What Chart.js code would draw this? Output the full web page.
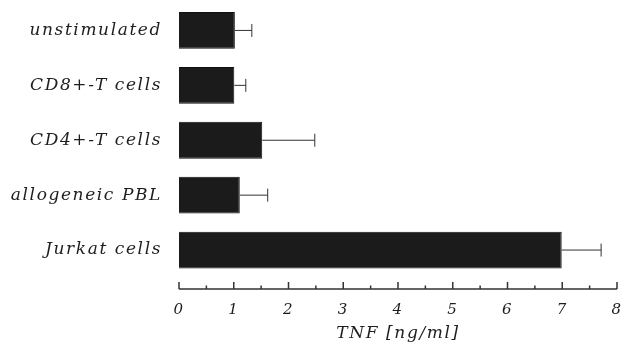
<!DOCTYPE html>
<html lang="en">
<head>
<meta charset="utf-8">
<script src="https://cdn.jsdelivr.net/npm/chart.js@4.4.0/dist/chart.umd.min.js"></script>
<style>
  html, body { margin: 0; padding: 0; background: #fff; }
  #wrap { width: 629px; height: 354px; }
</style>
</head>
<body>
<div id="wrap"><canvas id="chart" width="629" height="354"></canvas></div>
<script>
// values
const categories = ['unstimulated', 'CD8+-T cells', 'CD4+-T cells', 'allogeneic PBL', 'Jurkat cells'];
const tnfMean = [1.02, 1.01, 1.52, 1.11, 6.99];
const tnfErr = [0.31, 0.21, 0.96, 0.51, 0.72];
const xTicks = [0, 1, 2, 3, 4, 5, 6, 7, 8];

const labelFont = "'DejaVu Serif', serif";
const ink = '#1e1e1e';

// the old plotter lettering is widely spaced
const spacing = {
  id: 'spacing',
  beforeDraw(chart) { chart.ctx.letterSpacing = '1.6px'; },
  afterDraw(chart) { chart.ctx.letterSpacing = '0px'; }
};

// error bars drawn from the bar end to mean + err, with a small cap
const errorBars = {
  id: 'errorBars',
  afterDatasetsDraw(chart) {
    const ctx = chart.ctx;
    const x = chart.scales.x;
    const meta = chart.getDatasetMeta(0);
    ctx.save();
    ctx.strokeStyle = '#333';
    ctx.lineWidth = 1;
    meta.data.forEach((bar, i) => {
      const x0 = x.getPixelForValue(tnfMean[i]);
      const x1 = x.getPixelForValue(tnfMean[i] + tnfErr[i]);
      const y = bar.y;
      ctx.beginPath();
      ctx.moveTo(x0, y);
      ctx.lineTo(x1, y);
      ctx.moveTo(x1, y - 6.5);
      ctx.lineTo(x1, y + 6.5);
      ctx.stroke();
    });
    ctx.restore();
  }
};

// x axis line sits a bit below the plot, ticks point upwards
const axisLine = {
  id: 'axisLine',
  afterDraw(chart) {
    const ctx = chart.ctx;
    const x = chart.scales.x;
    const y = chart.chartArea.bottom + 11.5;
    ctx.save();
    ctx.strokeStyle = '#333';
    ctx.lineWidth = 1.5;
    ctx.beginPath();
    ctx.moveTo(x.getPixelForValue(0), y);
    ctx.lineTo(x.getPixelForValue(8), y);
    for (let v = 0; v <= 8; v += 0.5) {
      const px = x.getPixelForValue(v);
      const len = Number.isInteger(v) ? 7 : 3.5;
      ctx.moveTo(px, y);
      ctx.lineTo(px, y - len);
    }
    ctx.stroke();
    ctx.restore();
  }
};

const ctx = document.getElementById('chart').getContext('2d');
new Chart(ctx, {
  type: 'bar',
  data: {
    labels: categories,
    datasets: [{
      data: tnfMean,
      backgroundColor: '#1b1b1b',
      borderColor: '#111',
      borderWidth: 1,
      barPercentage: 0.67,
      categoryPercentage: 1
    }]
  },
  options: {
    indexAxis: 'y',
    responsive: false,
    animation: false,
    layout: { padding: { top: 3, right: 12, left: 0, bottom: 0 } },
    plugins: { legend: { display: false }, tooltip: { enabled: false } },
    scales: {
      x: {
        min: 0,
        max: 8,
        afterBuildTicks: s => { s.ticks = xTicks.map(v => ({ value: v })); },
        afterFit: s => {
          s.height = 76.5;
          s.paddingLeft = 0; s.paddingRight = 0;
        },
        grid: { display: false, drawTicks: false },
        border: { display: false },
        ticks: {
          padding: 24,
          maxRotation: 0,
          color: ink,
          font: { family: labelFont, size: 15, style: 'italic' }
        },
        title: {
          display: true,
          text: 'TNF [ng/ml]',
          color: ink,
          padding: { top: 4, bottom: 10 },
          font: { family: labelFont, size: 17, style: 'italic' }
        }
      },
      y: {
        afterFit: s => {
          s.width = 179;
          s.paddingTop = 0; s.paddingBottom = 0;
        },
        grid: { display: false, drawTicks: false },
        border: { display: false },
        ticks: {
          padding: 17,
          color: ink,
          font: { family: labelFont, size: 17, style: 'italic' }
        }
      }
    }
  },
  plugins: [spacing, errorBars, axisLine]
});
</script>
</body>
</html>
